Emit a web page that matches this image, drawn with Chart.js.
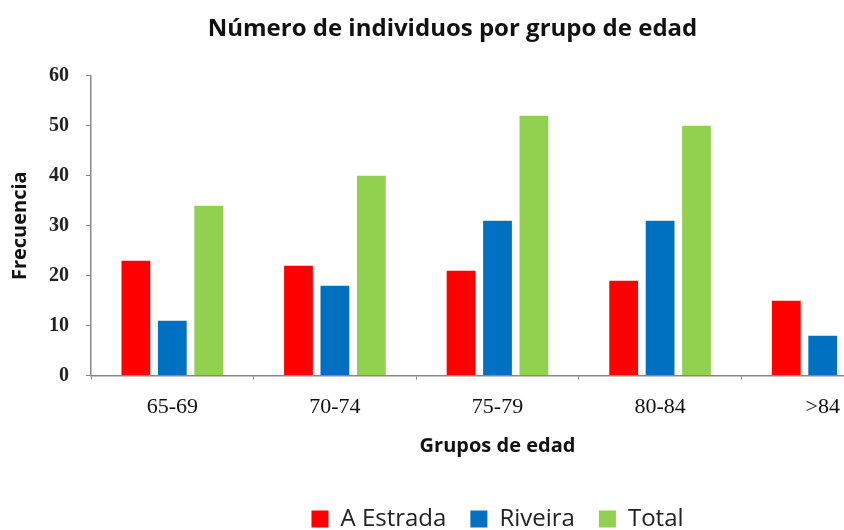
<!DOCTYPE html>
<html>
<head>
<meta charset="utf-8">
<script src="https://cdn.jsdelivr.net/npm/chart.js@4/dist/chart.umd.min.js"></script>
<style>
  html, body { margin: 0; padding: 0; background: #fff; overflow: hidden; }
  #wrap { width: 910px; height: 541px; }
</style>
</head>
<body>
<div id="wrap"><canvas id="grafica"></canvas></div>
<script>
const categorias = ['65-69', '70-74', '75-79', '80-84', '>84'];
const aEstrada = [23, 22, 21, 19, 15];
const riveira = [11, 18, 31, 31, 8];
const total = [34, 40, 52, 50, 23];
const ticksY = [0, 10, 20, 30, 40, 50, 60];

const ctx = document.getElementById('grafica').getContext('2d');

new Chart(ctx, {
  type: 'bar',
  data: {
    labels: categorias,
    datasets: [
      { label: 'A Estrada', data: aEstrada, backgroundColor: '#ff0000' },
      { label: 'Riveira', data: riveira, backgroundColor: '#0070c0' },
      { label: 'Total', data: total, backgroundColor: '#92d050' }
    ]
  },
  options: {
    responsive: true,
    maintainAspectRatio: false,
    animation: false,
    categoryPercentage: 0.672,
    barPercentage: 0.79,
    layout: { padding: { top: 15, right: 6, left: 1, bottom: 0 } },
    plugins: {
      title: {
        display: true,
        text: 'Número de individuos por grupo de edad',
        color: '#111',
        font: { family: 'Open Sans', size: 24, weight: 'bold' },
        padding: { top: 0, bottom: 32 }
      },
      legend: {
        position: 'bottom',
        fullSize: false,
        labels: {
          boxWidth: 17,
          boxHeight: 17,
          color: '#222',
          font: { family: 'Open Sans', size: 24 },
          padding: 24
        }
      },
      tooltip: { enabled: false }
    },
    scales: {
      y: {
        min: 0,
        max: 60,
        afterBuildTicks: (axis) => { axis.ticks = ticksY.map(v => ({ value: v })); },
        grid: { drawOnChartArea: false, color: '#888', tickLength: 5, tickColor: '#888' },
        border: { color: '#888', width: 1.5 },
        ticks: { color: '#222', padding: 17, font: { family: 'Liberation Serif', size: 20, weight: 'bold' } },
        title: {
          display: true,
          text: 'Frecuencia',
          color: '#111',
          font: { family: 'Open Sans', size: 20, weight: 'bold' },
          padding: { top: 7, bottom: 0 }
        }
      },
      x: {
        grid: { drawOnChartArea: false, offset: true, color: '#888', tickLength: 4, tickColor: '#888' },
        border: { color: '#888', width: 1.5 },
        ticks: { color: '#111', padding: 14, font: { family: 'Liberation Serif', size: 22 } },
        title: {
          display: true,
          text: 'Grupos de edad',
          color: '#111',
          font: { family: 'Open Sans', size: 20, weight: 'bold' },
          padding: { top: 0, bottom: 25 }
        }
      }
    }
  }
});
</script>
</body>
</html>
